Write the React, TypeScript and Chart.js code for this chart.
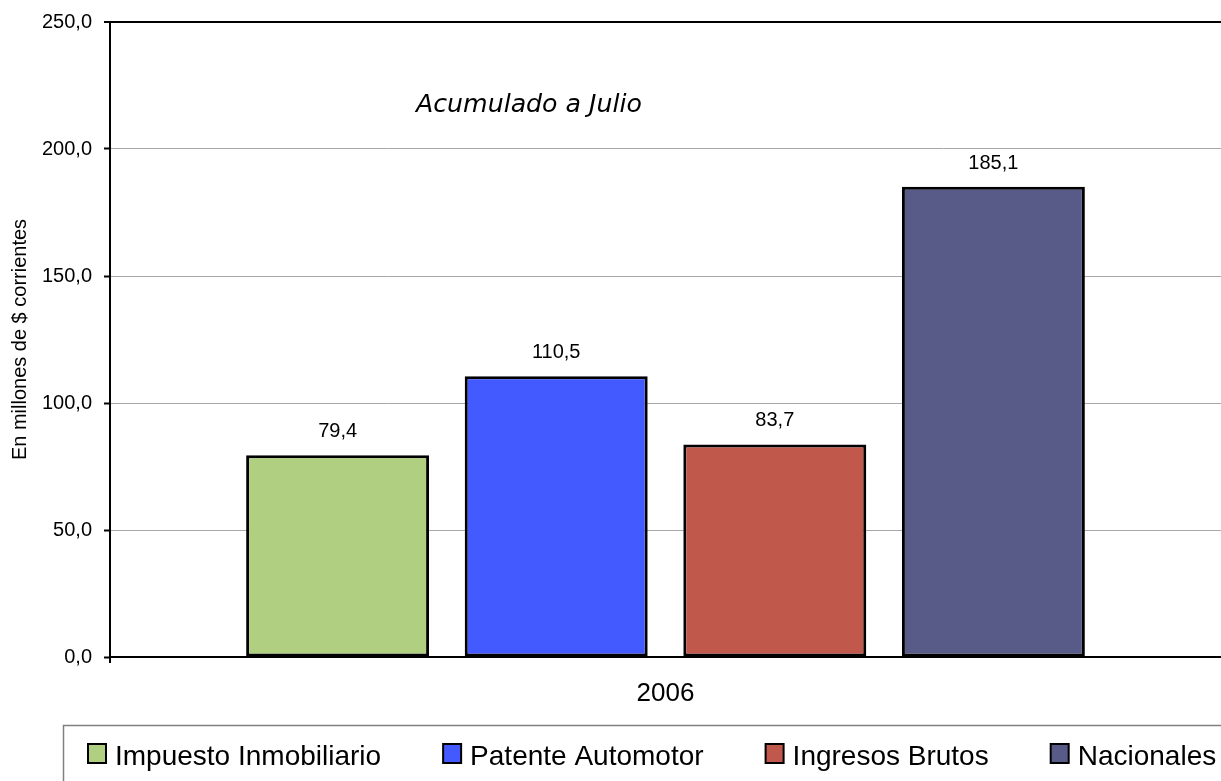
import React, { useEffect, useRef } from "react";
import { Chart, registerables } from "chart.js";

Chart.register(...registerables);

const categories = ["2006"];
const seriesNames = ["Impuesto Inmobiliario", "Patente Automotor", "Ingresos Brutos", "Nacionales"];
const impuestoInmobiliario = [79.4];
const patenteAutomotor = [110.5];
const ingresosBrutos = [83.7];
const nacionales = [185.1];
const seriesColors = ["#B0CF80", "#425AFF", "#C0594B", "#585A88"];
const yTicks = [0, 50, 100, 150, 200, 250];
const chartTitle = "Acumulado a Julio";
const yAxisTitle = "En millones de $ corrientes";

const FONT = "'Liberation Sans', Arial, sans-serif";
const fmt = (v: number) => v.toFixed(1).replace(".", ",");

export default function App() {
  const ref = useRef<HTMLCanvasElement | null>(null);

  useEffect(() => {
    const canvas = ref.current;
    if (!canvas) return;
    const series = [impuestoInmobiliario, patenteAutomotor, ingresosBrutos, nacionales];

    const labelsPlugin = {
      id: "valueLabels",
      afterDatasetsDraw(chart: any) {
        const ctx = chart.ctx;
        ctx.save();
        ctx.font = `20px ${FONT}`;
        ctx.fillStyle = "#000";
        ctx.textAlign = "center";
        ctx.textBaseline = "alphabetic";
        chart.data.datasets.forEach((ds: any, i: number) => {
          const meta = chart.getDatasetMeta(i);
          meta.data.forEach((bar: any, j: number) => {
            ctx.fillText(fmt(ds.data[j]), bar.x, bar.y - 18);
          });
        });
        ctx.restore();
      },
    };

    const titlePlugin = {
      id: "innerTitle",
      afterDraw(chart: any) {
        const ctx = chart.ctx;
        const area = chart.chartArea;
        ctx.save();
        ctx.font = `italic 24px 'DejaVu Sans', sans-serif`;
        const w = ctx.measureText(chartTitle).width;
        const size = (24 * 226) / w;
        ctx.font = `italic ${size}px 'DejaVu Sans', sans-serif`;
        ctx.fillStyle = "#000";
        ctx.textAlign = "left";
        ctx.textBaseline = "alphabetic";
        ctx.fillText(chartTitle, area.left + 306, area.top + 90);
        ctx.restore();
      },
    };

    const legendPlugin = {
      id: "boxLegend",
      afterDraw(chart: any) {
        const ctx = chart.ctx;
        const area = chart.chartArea;
        ctx.save();
        const top = area.bottom + 68.5;
        ctx.strokeStyle = "#808080";
        ctx.lineWidth = 1.5;
        ctx.strokeRect(63.5, top, chart.width + 20, 100);
        ctx.font = `28px ${FONT}`;
        ctx.textBaseline = "alphabetic";
        ctx.textAlign = "left";
        let x = 88;
        const boxTop = top + 18.5;
        chart.data.datasets.forEach((ds: any) => {
          ctx.fillStyle = ds.backgroundColor;
          ctx.fillRect(x, boxTop, 18, 19);
          ctx.strokeStyle = "#000";
          ctx.lineWidth = 2;
          ctx.strokeRect(x, boxTop, 18, 19);
          ctx.fillStyle = "#000";
          ctx.fillText(ds.label, x + 27, boxTop + 20.5);
          x += 27 + ctx.measureText(ds.label).width + 62;
        });
        ctx.restore();
      },
    };

    const chart = new Chart(canvas, {
      type: "bar",
      data: {
        labels: categories,
        datasets: series.map((d, i) => ({
          label: seriesNames[i],
          data: d,
          backgroundColor: seriesColors[i],
          borderColor: "#000",
          borderWidth: 3,
          borderSkipped: false,
          barPercentage: 0.837,
          categoryPercentage: 0.787,
        })),
      },
      options: {
        responsive: false,
        animation: false,
        layout: { padding: { top: 19, left: 0, right: 0, bottom: 0 } },
        plugins: {
          legend: { display: false },
          tooltip: { enabled: false },
          title: { display: false },
        },
        scales: {
          x: {
            offset: true,
            grid: {
              display: true,
              drawOnChartArea: false,
              drawTicks: true,
              tickLength: 6,
              color: (c: any) => (c.index === 0 ? "#000" : "rgba(0,0,0,0)"),
              lineWidth: 2,
              offset: true,
            },
            border: { display: true, color: "#000", width: 2 },
            ticks: { color: "#000", font: { family: FONT, size: 26 }, padding: 15 },
            afterFit: (s: any) => {
              s.height = 124;
            },
          },
          y: {
            min: 0,
            max: 250,
            afterBuildTicks: (s: any) => {
              s.ticks = yTicks.map((v) => ({ value: v }));
            },
            ticks: {
              color: "#000",
              font: { family: FONT, size: 20, lineHeight: 1 },
              padding: 12,
              callback: (v: any) => fmt(Number(v)),
            },
            grid: {
              color: (c: any) => (c.tick && c.tick.value === 250 ? "#000" : "#A8A8A8"),
              lineWidth: (c: any) => (c.tick && c.tick.value === 250 ? 2 : 1),
              tickColor: "#000",
              tickLength: 6,
              tickWidth: 2,
            },
            border: { display: true, color: "#000", width: 2 },
            title: {
              display: true,
              text: yAxisTitle,
              color: "#000",
              font: { family: FONT, size: 20 },
              padding: { top: 8, bottom: 0 },
            },
            afterFit: (s: any) => {
              s.width = 110;
            },
          },
        },
      },
      plugins: [labelsPlugin, titlePlugin, legendPlugin],
    });

    return () => chart.destroy();
  }, []);

  return (
    <div style={{ position: "fixed", left: 0, top: 0, width: 1221, height: 781, background: "#fff" }}>
      <canvas ref={ref} width={1221} height={781} style={{ display: "block", width: 1221, height: 781 }} />
    </div>
  );
}
